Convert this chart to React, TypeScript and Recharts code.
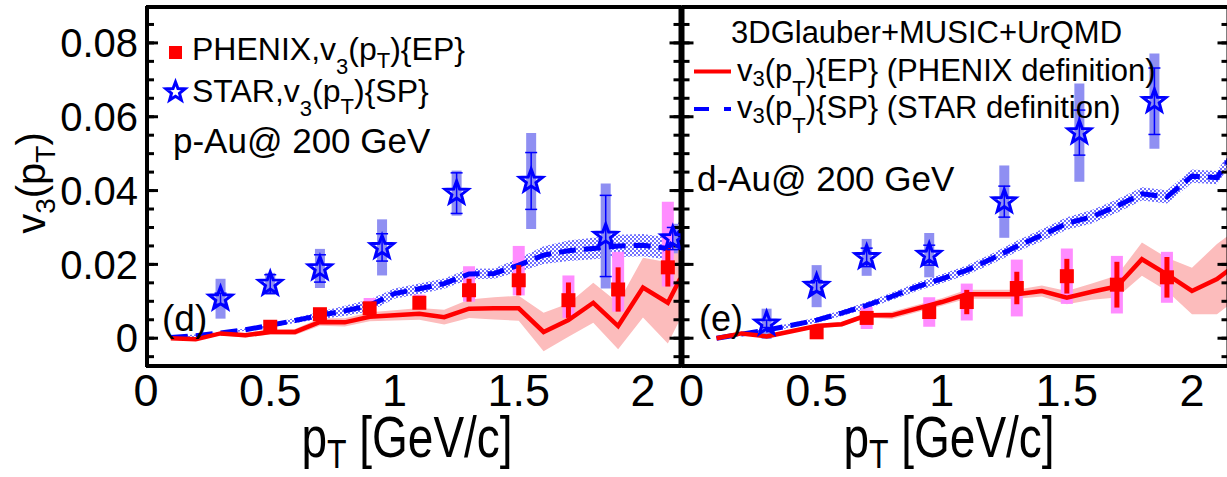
import { ComposedChart, XAxis, YAxis, Line, Area, Scatter, ErrorBar } from "recharts";

const FONT = "'Liberation Sans', Arial, sans-serif";

// model curves are sampled at these pT values
const MODEL_PT = [0.1, 0.2, 0.3, 0.4, 0.5, 0.6, 0.7, 0.8, 0.9, 1.0, 1.1, 1.2, 1.3, 1.4, 1.5, 1.6, 1.7, 1.8, 1.9, 2.0, 2.1, 2.15];

// p-Au, model
const PAU_EP = [0.0, -0.0003, 0.0013, 0.0008, 0.0017, 0.0017, 0.0044, 0.0043, 0.0058, 0.0062, 0.0066, 0.0057, 0.008, 0.0081, 0.0081, 0.0017, 0.0049, 0.0096, 0.0033, 0.0137, 0.0096, 0.0162];
const PAU_EP_ERR = [0.0004, 0.0004, 0.0005, 0.0006, 0.0007, 0.0008, 0.001, 0.0011, 0.0012, 0.0014, 0.0016, 0.002, 0.0025, 0.003, 0.0034, 0.0052, 0.0045, 0.0054, 0.0063, 0.0081, 0.011, 0.011];
const PAU_SP = [0.0002, 0.0007, 0.0014, 0.0023, 0.0035, 0.0048, 0.0062, 0.0074, 0.0089, 0.0121, 0.0134, 0.0148, 0.0174, 0.0175, 0.0198, 0.0225, 0.0237, 0.0243, 0.025, 0.0252, 0.0243, 0.029];
const PAU_SP_ERR = [0.0003, 0.0003, 0.0003, 0.0003, 0.0005, 0.0007, 0.001, 0.0014, 0.0016, 0.0014, 0.0014, 0.0014, 0.0014, 0.0014, 0.0018, 0.0024, 0.0028, 0.0029, 0.003, 0.003, 0.003, 0.003];

// p-Au, PHENIX v3{EP}
const PAU_PHENIX_PT = [0.5, 0.7, 0.9, 1.1, 1.3, 1.5, 1.7, 1.9, 2.1];
const PAU_PHENIX_V3 = [0.0031, 0.0065, 0.0081, 0.0096, 0.013, 0.0157, 0.0103, 0.0132, 0.0192];
const PAU_PHENIX_STAT = [0.0004, 0.0006, 0.001, 0.0015, 0.0031, 0.0041, 0.0048, 0.006, 0.0052];
const PAU_PHENIX_SYS_LO = [0.0004, 0.0006, 0.001, 0.0015, 0.0031, 0.0041, 0.0048, 0.006, 0.0052];
const PAU_PHENIX_SYS_HI = [0.0008, 0.0012, 0.0028, 0.0022, 0.0065, 0.0093, 0.0067, 0.0102, 0.0178];

// p-Au, STAR v3{SP}
const PAU_STAR_PT = [0.3, 0.5, 0.7, 0.95, 1.25, 1.55, 1.85, 2.12];
const PAU_STAR_V3 = [0.0107, 0.0147, 0.0189, 0.0246, 0.0393, 0.0426, 0.0277, 0.027];
const PAU_STAR_STAT = [0.0015, 0.0025, 0.0037, 0.0037, 0.0055, 0.0077, 0.011, 0.003];
const PAU_STAR_SYS = [0.0054, 0.003, 0.0053, 0.0076, 0.0061, 0.013, 0.0142, 0.004];

// d-Au, model
const DAU_EP = [0.0, 0.0013, 0.0005, 0.0019, 0.0033, 0.0038, 0.0062, 0.0062, 0.008, 0.0098, 0.0119, 0.0119, 0.0119, 0.0128, 0.011, 0.0126, 0.014, 0.0214, 0.0173, 0.0128, 0.016, 0.0186];
const DAU_EP_ERR = [0.0004, 0.0004, 0.0004, 0.0004, 0.0006, 0.0006, 0.0006, 0.001, 0.001, 0.001, 0.0012, 0.0012, 0.0012, 0.0015, 0.0018, 0.0022, 0.003, 0.0045, 0.0045, 0.0063, 0.0095, 0.0095];
const DAU_SP = [0.0, 0.0011, 0.0022, 0.0035, 0.0049, 0.0068, 0.0089, 0.0113, 0.0139, 0.0161, 0.0184, 0.0215, 0.0249, 0.0279, 0.0311, 0.0329, 0.0358, 0.0391, 0.0383, 0.0439, 0.0435, 0.0485];
const DAU_SP_ERR = [0.0004, 0.0005, 0.0005, 0.0006, 0.0007, 0.0008, 0.0009, 0.001, 0.0011, 0.0012, 0.0013, 0.0014, 0.0015, 0.0016, 0.0017, 0.0018, 0.0018, 0.0018, 0.0018, 0.0018, 0.0018, 0.0018];

// d-Au, PHENIX v3{EP}
const DAU_PHENIX_PT = [0.5, 0.7, 0.95, 1.1, 1.3, 1.5, 1.7, 1.9];
const DAU_PHENIX_V3 = [0.0016, 0.0055, 0.0071, 0.0098, 0.0136, 0.0168, 0.0145, 0.0165];
const DAU_PHENIX_STAT = [0.0005, 0.0008, 0.0015, 0.0033, 0.0044, 0.0047, 0.0062, 0.0055];
const DAU_PHENIX_SYS = [0.0012, 0.003, 0.004, 0.005, 0.0077, 0.0075, 0.0078, 0.0069];

// d-Au, STAR v3{SP}
const DAU_STAR_PT = [0.3, 0.5, 0.7, 0.95, 1.25, 1.55, 1.85];
const DAU_STAR_V3 = [0.0039, 0.0141, 0.0219, 0.0225, 0.037, 0.0557, 0.0642];
const DAU_STAR_STAT = [0.001, 0.0015, 0.0025, 0.0027, 0.0042, 0.0061, 0.009];
const DAU_STAR_SYS = [0.0041, 0.0057, 0.005, 0.006, 0.0098, 0.0133, 0.0129];

// axis ticks
const Y_MAJOR = [0, 0.02, 0.04, 0.06, 0.08];
const Y_MINOR = [-0.005, 0, 0.005, 0.01, 0.015, 0.02, 0.025, 0.03, 0.035, 0.04, 0.045, 0.05, 0.055, 0.06, 0.065, 0.07, 0.075, 0.08, 0.085];
const X_MAJOR = [0, 0.5, 1, 1.5, 2];
const X_MINOR = [0, 0.1, 0.2, 0.3, 0.4, 0.5, 0.6, 0.7, 0.8, 0.9, 1, 1.1, 1.2, 1.3, 1.4, 1.5, 1.6, 1.7, 1.8, 1.9, 2, 2.1];

const Y_DOMAIN: [number, number] = [-0.0078, 0.09];

const RED = "#ff0000";
const BLUE = "#0000ff";
const BAND_RED = "#fcbcbc";
const BOX_PINK = "#ff8cff";
const BOX_BLUE = "#8f8ff2";

type PointRow = { x: number; y: number; stat: [number, number]; sys: [number, number] };

function modelRows(center: number[], half: number[]) {
  return MODEL_PT.map((x, i) => ({ x, y: center[i], band: [center[i] - half[i], center[i] + half[i]] }));
}

function pointRows(pt: number[], v: number[], stat: number[], sysLo: number[], sysHi: number[]): PointRow[] {
  return pt.map((x, i) => ({ x, y: v[i], stat: [stat[i], stat[i]], sys: [sysLo[i], sysHi[i]] }));
}

function starPath(cx: number, cy: number, R: number, r: number) {
  let d = "";
  for (let i = 0; i < 10; i++) {
    const a = (-90 + i * 36) * (Math.PI / 180);
    const rad = i % 2 === 0 ? R : r;
    d += (i === 0 ? "M" : "L") + (cx + rad * Math.cos(a)).toFixed(2) + "," + (cy + rad * Math.sin(a)).toFixed(2);
  }
  return d + "Z";
}

const Square = (p: any) => <rect x={p.cx - 7} y={p.cy - 7} width={14} height={14} fill={RED} />;
const Star = (p: any) => <path d={starPath(p.cx, p.cy, 12, 5)} fill="none" stroke={BLUE} strokeWidth={3} strokeLinejoin="miter" />;
const Nothing = () => <g />;

const frameLine = { stroke: "#000", strokeWidth: 4 };
const tickLine = { stroke: "#000", strokeWidth: 3 };

type PanelProps = {
  left: number;
  width: number;
  plotLeft: number;
  plotRight: number;
  xDomain: [number, number];
  showYLabels: boolean;
  ep: ReturnType<typeof modelRows>;
  sp: ReturnType<typeof modelRows>;
  phenix: PointRow[];
  star: PointRow[];
};

const PLOT_TOP = 6;
const PLOT_BOTTOM = 367;
const X_AXIS_H = 60;
const Y_LABEL_W = 146;

function Panel({ left, width, plotLeft, plotRight, xDomain, showYLabels, ep, sp, phenix, star }: PanelProps) {
  const margin = {
    top: PLOT_TOP,
    bottom: 477 - PLOT_BOTTOM - X_AXIS_H,
    left: plotLeft - left - (showYLabels ? Y_LABEL_W : 0),
    right: left + width - plotRight,
  };
  const ax = { xAxisId: "x", yAxisId: "y" };
  // inward tick marks, no labels
  const deco = { allowDataOverflow: true, interval: 0 as const, mirror: true, tick: Nothing, tickLine };
  return (
    <div style={{ position: "absolute", left, top: 0, width, height: 477 }}>
      <ComposedChart width={width} height={477} margin={margin}>
        <XAxis
          xAxisId="x"
          type="number"
          dataKey="x"
          domain={xDomain}
          allowDataOverflow
          ticks={X_MAJOR}
          interval={0}
          height={X_AXIS_H}
          tickSize={0}
          tickMargin={7}
          tickLine={false}
          axisLine={false}
          tick={{ fontSize: 45, fill: "#000", fontFamily: FONT }}
        />
        <XAxis xAxisId="xbm" type="number" domain={xDomain} ticks={X_MINOR} height={1} tickSize={7} axisLine={frameLine} {...deco} />
        <XAxis xAxisId="xbM" type="number" domain={xDomain} ticks={X_MAJOR} height={1} tickSize={12} axisLine={false} {...deco} />
        <XAxis xAxisId="xtm" orientation="top" type="number" domain={xDomain} ticks={X_MINOR} height={1} tickSize={7} axisLine={frameLine} {...deco} />
        <XAxis xAxisId="xtM" orientation="top" type="number" domain={xDomain} ticks={X_MAJOR} height={1} tickSize={12} axisLine={false} {...deco} />
        <YAxis
          yAxisId="y"
          type="number"
          domain={Y_DOMAIN}
          allowDataOverflow
          ticks={Y_MAJOR}
          interval={0}
          hide={!showYLabels}
          width={Y_LABEL_W}
          tickSize={0}
          tickMargin={8}
          tickLine={false}
          axisLine={false}
          tickFormatter={(v: number) => (v === 0 ? "0" : v.toFixed(2))}
          tick={{ fontSize: 40, fill: "#000", fontFamily: FONT }}
        />
        <YAxis yAxisId="ylm" type="number" domain={Y_DOMAIN} ticks={Y_MINOR} width={1} tickSize={7} axisLine={frameLine} {...deco} />
        <YAxis yAxisId="ylM" type="number" domain={Y_DOMAIN} ticks={Y_MAJOR} width={1} tickSize={12} axisLine={false} {...deco} />
        <YAxis yAxisId="yrm" orientation="right" type="number" domain={Y_DOMAIN} ticks={Y_MINOR} width={1} tickSize={7} axisLine={frameLine} {...deco} />
        <YAxis yAxisId="yrM" orientation="right" type="number" domain={Y_DOMAIN} ticks={Y_MAJOR} width={1} tickSize={12} axisLine={false} {...deco} />

        {/* systematic boxes */}
        <Scatter {...ax} data={star} dataKey="y" shape={Nothing} isAnimationActive={false}>
          <ErrorBar dataKey="sys" direction="y" width={0} strokeWidth={10} stroke={BOX_BLUE} />
        </Scatter>
        <Scatter {...ax} data={phenix} dataKey="y" shape={Nothing} isAnimationActive={false}>
          <ErrorBar dataKey="sys" direction="y" width={0} strokeWidth={12} stroke={BOX_PINK} />
        </Scatter>

        {/* model bands and curves */}
        <Area {...ax} data={ep} dataKey="band" type="linear" stroke="none" fill={BAND_RED} fillOpacity={1} dot={false} activeDot={false} isAnimationActive={false} />
        <Area {...ax} data={sp} dataKey="band" type="linear" stroke="none" fill="url(#checker)" fillOpacity={1} dot={false} activeDot={false} isAnimationActive={false} />
        <Line {...ax} data={sp} dataKey="y" type="linear" stroke={BLUE} strokeWidth={5} strokeDasharray="17 8" dot={false} activeDot={false} isAnimationActive={false} />
        <Line {...ax} data={ep} dataKey="y" type="linear" stroke={RED} strokeWidth={4.5} dot={false} activeDot={false} isAnimationActive={false} />

        {/* data points with statistical errors */}
        <Scatter {...ax} data={phenix} dataKey="y" shape={Square} isAnimationActive={false}>
          <ErrorBar dataKey="stat" direction="y" width={0} strokeWidth={5} stroke={RED} />
        </Scatter>
        <Scatter {...ax} data={star} dataKey="y" shape={Star} isAnimationActive={false}>
          <ErrorBar dataKey="stat" direction="y" width={6} strokeWidth={1.5} stroke={BLUE} />
        </Scatter>
      </ComposedChart>
    </div>
  );
}

const SUB = 22;

function Texts() {
  const t = { fontFamily: FONT, fill: "#000" };
  return (
    <svg width={1227} height={477} style={{ position: "absolute", left: 0, top: 0, pointerEvents: "none" }}>
      {/* y title */}
      <text {...t} fontSize={40} transform="translate(45,183) rotate(-90)" textAnchor="middle">
        v<tspan fontSize={28} dy={10}>3</tspan>
        <tspan dy={-10}>(p</tspan>
        <tspan fontSize={28} dy={10}>T</tspan>
        <tspan dy={-10}>)</tspan>
      </text>
      {/* x titles, drawn a little taller than wide as in the original */}
      <text {...t} fontSize={46} transform="translate(407,457) scale(1,1.25)" textAnchor="middle">
        p<tspan fontSize={32} dy={9}>T</tspan>
        <tspan dy={-9}> [GeV/c]</tspan>
      </text>
      <text {...t} fontSize={46} transform="translate(949,457) scale(1,1.25)" textAnchor="middle">
        p<tspan fontSize={32} dy={9}>T</tspan>
        <tspan dy={-9}> [GeV/c]</tspan>
      </text>

      {/* left legend */}
      <rect x={169} y={46} width={13} height={13} fill={RED} />
      <text {...t} fontSize={32} x={192} y={60}>
        PHENIX,v<tspan fontSize={SUB} dy={14}>3</tspan>
        <tspan dy={-14}>(p</tspan>
        <tspan fontSize={SUB} dy={8}>T</tspan>
        <tspan dy={-8}>){"{"}EP{"}"}</tspan>
      </text>
      <path d={starPath(175.5, 92, 10, 4.2)} fill="none" stroke={BLUE} strokeWidth={3} />
      <text {...t} fontSize={32} x={192} y={102}>
        STAR,v<tspan fontSize={SUB} dy={14}>3</tspan>
        <tspan dy={-14}>(p</tspan>
        <tspan fontSize={SUB} dy={12}>T</tspan>
        <tspan dy={-12}>){"{"}SP{"}"}</tspan>
      </text>
      <text {...t} fontSize={35} x={173} y={153}>p-Au@ 200 GeV</text>
      <text {...t} fontSize={37} x={162} y={331}>(d)</text>

      {/* right legend */}
      <text {...t} fontSize={31} x={731} y={43}>3DGlauber+MUSIC+UrQMD</text>
      <line x1={694} y1={71.5} x2={731} y2={71.5} stroke={RED} strokeWidth={4} />
      <text {...t} fontSize={31} x={737} y={81}>
        v<tspan fontSize={SUB} dy={5}>3</tspan>
        <tspan dy={-5}>(p</tspan>
        <tspan fontSize={SUB} dy={15}>T</tspan>
        <tspan dy={-15}>){"{"}EP{"}"} (PHENIX definition)</tspan>
      </text>
      <line x1={694} y1={109} x2={731} y2={109} stroke={BLUE} strokeWidth={4} strokeDasharray="15 15 7 100" />
      <text {...t} fontSize={31} x={737} y={118}>
        v<tspan fontSize={SUB} dy={5}>3</tspan>
        <tspan dy={-5}>(p</tspan>
        <tspan fontSize={SUB} dy={15}>T</tspan>
        <tspan dy={-15}>){"{"}SP{"}"} (STAR definition)</tspan>
      </text>
      <text {...t} fontSize={35} x={697} y={191}>d-Au@ 200 GeV</text>
      <text {...t} fontSize={36} x={699} y={331}>(e)</text>
    </svg>
  );
}

export default function App() {
  const pauEp = modelRows(PAU_EP, PAU_EP_ERR);
  const pauSp = modelRows(PAU_SP, PAU_SP_ERR);
  const dauEp = modelRows(DAU_EP, DAU_EP_ERR);
  const dauSp = modelRows(DAU_SP, DAU_SP_ERR);
  const pauPhenix = pointRows(PAU_PHENIX_PT, PAU_PHENIX_V3, PAU_PHENIX_STAT, PAU_PHENIX_SYS_LO, PAU_PHENIX_SYS_HI);
  const pauStar = pointRows(PAU_STAR_PT, PAU_STAR_V3, PAU_STAR_STAT, PAU_STAR_SYS, PAU_STAR_SYS);
  const dauPhenix = pointRows(DAU_PHENIX_PT, DAU_PHENIX_V3, DAU_PHENIX_STAT, DAU_PHENIX_SYS, DAU_PHENIX_SYS);
  const dauStar = pointRows(DAU_STAR_PT, DAU_STAR_V3, DAU_STAR_STAT, DAU_STAR_SYS, DAU_STAR_SYS);

  return (
    <div style={{ position: "fixed", left: 0, top: 0, width: 1227, height: 477, overflow: "hidden", background: "#fff", fontFamily: FONT }}>
      <svg width={0} height={0} style={{ position: "absolute" }}>
        <defs>
          <pattern id="checker" width={4} height={4} patternUnits="userSpaceOnUse">
            <rect width={4} height={4} fill="#ffffff" />
            <rect width={2} height={2} fill="#7070ff" />
            <rect x={2} y={2} width={2} height={2} fill="#7070ff" />
          </pattern>
        </defs>
      </svg>
      <Panel left={0} width={690} plotLeft={146} plotRight={681.5} xDomain={[0, 2.155]} showYLabels ep={pauEp} sp={pauSp} phenix={pauPhenix} star={pauStar} />
      <Panel left={672} width={560} plotLeft={681.5} plotRight={1229.5} xDomain={[-0.04, 2.15]} showYLabels={false} ep={dauEp} sp={dauSp} phenix={dauPhenix} star={dauStar} />
      <Texts />
    </div>
  );
}
